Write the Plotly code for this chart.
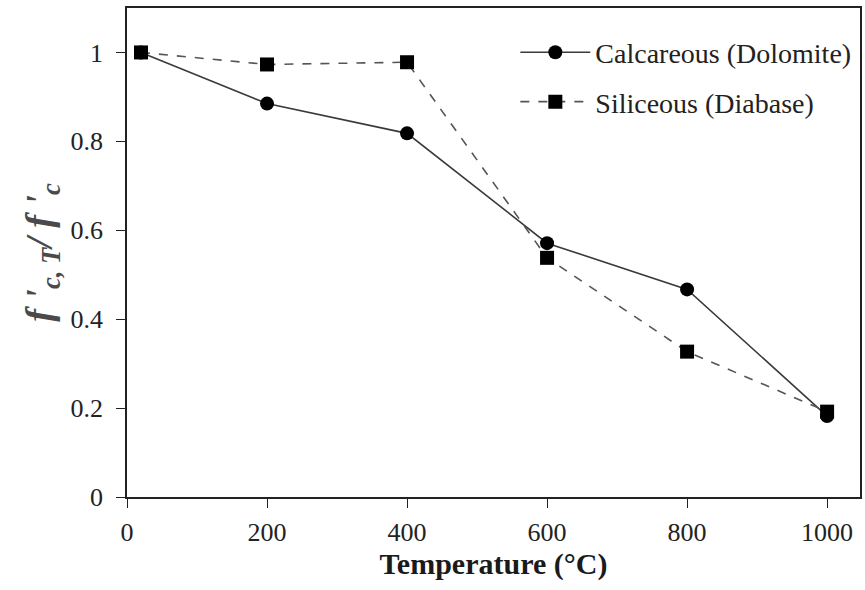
import plotly.graph_objects as go

# Relative compressive strength of concrete after heating
temperature = [20, 200, 400, 600, 800, 1000]
calcareous = [1.0, 0.885, 0.818, 0.571, 0.467, 0.182]
siliceous = [1.0, 0.973, 0.978, 0.538, 0.327, 0.192]

series_names = ["Calcareous (Dolomite)", "Siliceous (Diabase)"]
y_ticks = [0, 0.2, 0.4, 0.6, 0.8, 1]
x_ticks = [0, 200, 400, 600, 800, 1000]

serif = "Liberation Serif, Times New Roman, serif"

fig = go.Figure()
fig.add_trace(go.Scatter(
    x=temperature, y=calcareous, name=series_names[0],
    mode="lines+markers", legendgroup="calc",
    line=dict(color="#3a3a3a", width=1.6),
    marker=dict(symbol="circle", size=14, color="black"),
))
fig.add_trace(go.Scatter(
    x=temperature, y=siliceous, name=series_names[1],
    mode="lines+markers", legendgroup="sil",
    line=dict(color="#555555", width=1.6, dash="dash"),
    marker=dict(symbol="square", size=14, color="black"),
))

axis_common = dict(
    showgrid=False, zeroline=False,
    showline=True, linecolor="#222222", linewidth=1.5, mirror=True,
    ticks="outside", ticklen=9, tickwidth=1.3, tickcolor="#222222",
    tickfont=dict(family=serif, size=26, color="#222222"),
)

fig.update_xaxes(
    range=[0, 1047], tickvals=x_ticks, ticklabelstandoff=2,
    title=dict(text="<b>Temperature (°C)</b>", standoff=0,
               font=dict(family=serif, size=30, color="#1a1a1a")),
    **axis_common,
)
fig.update_yaxes(
    range=[0, 1.1], tickvals=y_ticks, ticktext=[f"{v:g}" for v in y_ticks],
    ticklabelstandoff=8,
    title=dict(text="<b><i>f '</i><sub><i>c, T</i></sub><i>/ f '</i><sub><i>c</i></sub></b>",
               standoff=6,
               font=dict(family=serif, size=38, color="#4a4a4a")),
    **axis_common,
)

fig.update_layout(
    width=865, height=590,
    margin=dict(l=127, r=3, t=8, b=93),
    plot_bgcolor="white", paper_bgcolor="white",
    showlegend=True,
    legend=dict(
        x=0.995, y=0.96, xanchor="right", yanchor="top",
        bgcolor="rgba(0,0,0,0)",
        font=dict(family=serif, size=28, color="#222222"),
        itemwidth=70, tracegroupgap=10,
    ),
)

fig.write_html("out.html")
